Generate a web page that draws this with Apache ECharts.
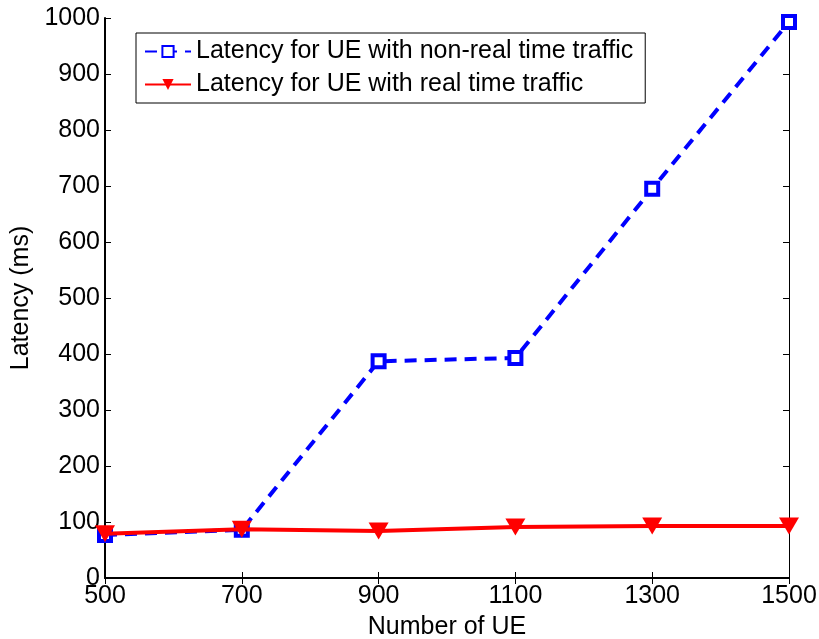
<!DOCTYPE html>
<html>
<head>
<meta charset="utf-8">
<script src="https://cdn.jsdelivr.net/npm/echarts@6/dist/echarts.min.js"></script>
<style>
  html, body { margin: 0; padding: 0; background: #fff; }
  #chart { width: 819px; height: 639px; }
</style>
</head>
<body>
<div id="chart"></div>
<script>
const ueCounts = [500, 700, 900, 1100, 1300, 1500]
const nonRealTime = [77, 86, 387, 393, 695, 993]
const realTime = [79, 87, 84, 91, 93, 93]

const font = 'Liberation Sans, Arial, sans-serif'
const pair = (xs, ys) => xs.map((x, i) => [x, ys[i]])
const plain = v => String(v)

const chart = echarts.init(document.getElementById('chart'))

const axisCommon = {
  axisLine: { show: true, lineStyle: { color: '#000', width: 2 } },
  axisTick: { show: true, inside: true, length: 6, lineStyle: { color: '#000' } },
  splitLine: { show: false }
}

const option = {
  animation: false,
  backgroundColor: '#fff',
  grid: { left: 105, right: 30, top: 18, bottom: 61, outerBoundsMode: 'none', containLabel: false },
  legend: {
    left: 136,
    top: 33,
    orient: 'vertical',
    itemWidth: 46,
    itemHeight: 14,
    itemGap: 8,
    padding: [6, 12, 6, 8],
    borderColor: '#000',
    borderWidth: 1,
    backgroundColor: '#fff',
    textStyle: { fontFamily: font, fontSize: 25, color: '#000' },
    data: ['Latency for UE with non-real time traffic', 'Latency for UE with real time traffic']
  },
  xAxis: [
    {
      type: 'value', min: 500, max: 1500, interval: 200,
      name: 'Number of UE', nameLocation: 'middle', nameGap: 37,
      nameTextStyle: { fontFamily: font, fontSize: 25, color: '#000' },
      axisLabel: { fontFamily: font, fontSize: 25, color: '#000', margin: 6, formatter: plain },
      ...axisCommon
    },
    {
      type: 'value', min: 500, max: 1500, interval: 200, position: 'top',
      axisLabel: { show: false },
      ...axisCommon,
      axisLine: { show: true, lineStyle: { color: '#000', width: 1 } }
    }
  ],
  yAxis: [
    {
      type: 'value', min: 0, max: 1000, interval: 100,
      name: 'Latency (ms)', nameLocation: 'middle', nameGap: 70,
      nameTextStyle: { fontFamily: font, fontSize: 25, color: '#000' },
      axisLabel: { fontFamily: font, fontSize: 25, color: '#000', margin: 5, formatter: plain },
      ...axisCommon
    },
    {
      type: 'value', min: 0, max: 1000, interval: 100, position: 'right',
      axisLabel: { show: false },
      ...axisCommon,
      axisLine: { show: true, lineStyle: { color: '#000', width: 1 } }
    }
  ],
  series: [
    {
      name: 'Latency for UE with non-real time traffic',
      type: 'line',
      data: pair(ueCounts, nonRealTime),
      symbol: 'rect',
      symbolSize: 12,
      itemStyle: { color: '#fff', borderColor: '#0000ff', borderWidth: 4 },
      lineStyle: { color: '#0000ff', width: 4, type: [12, 8] },
      z: 2
    },
    {
      name: 'Latency for UE with real time traffic',
      type: 'line',
      data: pair(ueCounts, realTime),
      symbol: 'triangle',
      symbolRotate: 180,
      symbolSize: [20, 17],
      itemStyle: { color: '#ff0000' },
      lineStyle: { color: '#ff0000', width: 4 },
      z: 3
    }
  ]
}

chart.setOption(option)
</script>
</body>
</html>
